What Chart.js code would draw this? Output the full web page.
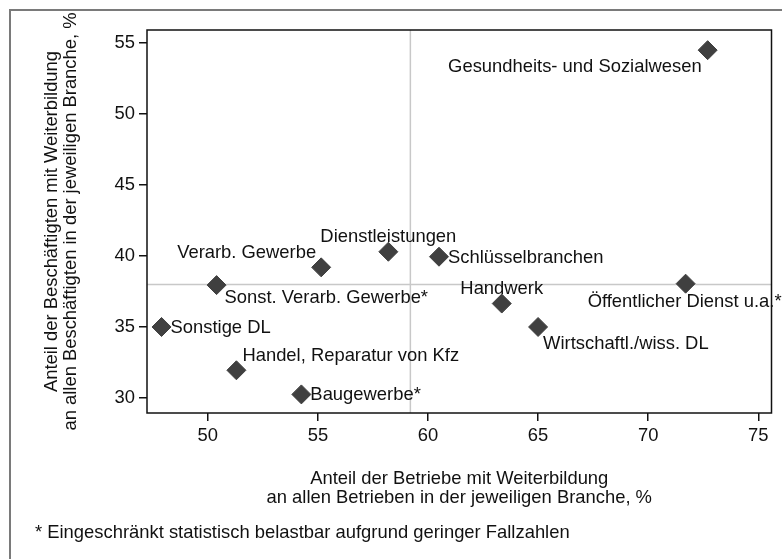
<!DOCTYPE html>
<html>
<head>
<meta charset="utf-8">
<title>Weiterbildung nach Branchen</title>
<script src="https://cdn.jsdelivr.net/npm/chart.js@4/dist/chart.umd.min.js"></script>
<style>
  body { margin: 0; background: #fff; }
  canvas { display: block; }
</style>
</head>
<body>
<canvas id="myChart" width="782" height="559"></canvas>
<script>
// data
const branchen = [
    'Gesundheits- und Sozialwesen',
    'Dienstleistungen',
    'Verarb. Gewerbe',
    'Schlüsselbranchen',
    'Sonst. Verarb. Gewerbe*',
    'Sonstige DL',
    'Handel, Reparatur von Kfz',
    'Baugewerbe*',
    'Handwerk',
    'Wirtschaftl./wiss. DL',
    'Öffentlicher Dienst u.a.*'
];
const anteilBetriebe = [72.7, 58.2, 55.15, 60.5, 50.4, 47.9, 51.3, 54.25, 63.35, 65.0, 71.7];
const anteilBeschaeftigte = [54.5, 40.3, 39.2, 39.95, 37.95, 35.0, 31.95, 30.25, 36.65, 35.0, 38.05];

// reference lines (averages)
const mittelBetriebe = 59.2;
const mittelBeschaeftigte = 38.0;

const xTicks = [50, 55, 60, 65, 70, 75];
const yTicks = [30, 35, 40, 45, 50, 55];

// label position per point, clock style (3 = right, 12 = above ...)
const labelPos = [7, 12, 11, 3, 4, 3, 1, 3, 12, 5, 6];

const footnote = '* Eingeschränkt statistisch belastbar aufgrund geringer Fallzahlen';

const xRange = [47.24, 75.6];
const yRange = [28.94, 55.92];

const posOffsets = {
    1:  { dx: 6,  dy: -14, align: 'left' },
    3:  { dx: 9,  dy: 1,   align: 'left' },
    4:  { dx: 8,  dy: 13,  align: 'left' },
    5:  { dx: 5,  dy: 17,  align: 'left' },
    6:  { dx: -1, dy: 18,  align: 'center' },
    7:  { dx: -6, dy: 17,  align: 'right' },
    11: { dx: -5, dy: -14, align: 'right' },
    12: { dx: 0,  dy: -15, align: 'center' }
};

const FONT = '"Liberation Sans", Arial, Helvetica, sans-serif';
const FSIZE = 18.4;
Chart.defaults.font.family = FONT;
Chart.defaults.font.size = FSIZE;
Chart.defaults.color = '#111';

// frame, plot border, point labels, footnote
const decorations = {
    id: 'decorations',
    beforeDraw(chart) {
        const ctx = chart.ctx;
        ctx.save();
        ctx.strokeStyle = '#7a7a7a';
        ctx.lineWidth = 2;
        ctx.strokeRect(10, 10, chart.width + 20, chart.height + 20);
        ctx.restore();
    },
    afterDatasetsDraw(chart) {
        const ctx = chart.ctx;
        const area = chart.chartArea;
        ctx.save();
        ctx.strokeStyle = '#111';
        ctx.lineWidth = 1.5;
        ctx.strokeRect(area.left, area.top, area.right - area.left, area.bottom - area.top);

        const meta = chart.getDatasetMeta(2);
        ctx.font = FSIZE + 'px ' + FONT;
        ctx.fillStyle = '#111';
        ctx.textBaseline = 'middle';
        meta.data.forEach((pt, i) => {
            const o = posOffsets[labelPos[i]];
            ctx.textAlign = o.align;
            ctx.fillText(branchen[i], pt.x + o.dx, pt.y + o.dy);
        });

        ctx.textAlign = 'left';
        ctx.fillText(footnote, 35, 533);
        ctx.restore();
    }
};

const ctx = document.getElementById('myChart').getContext('2d');

new Chart(ctx, {
    type: 'scatter',
    data: {
        datasets: [
            {
                label: 'Mittel Betriebe',
                data: [{ x: mittelBetriebe, y: yRange[0] }, { x: mittelBetriebe, y: yRange[1] }],
                showLine: true,
                borderColor: '#c8c8c8',
                borderWidth: 1.5,
                pointRadius: 0,
                order: 2
            },
            {
                label: 'Mittel Beschäftigte',
                data: [{ x: xRange[0], y: mittelBeschaeftigte }, { x: xRange[1], y: mittelBeschaeftigte }],
                showLine: true,
                borderColor: '#c8c8c8',
                borderWidth: 1.5,
                pointRadius: 0,
                order: 2
            },
            {
                label: 'Branchen',
                data: anteilBetriebe.map((v, i) => ({ x: v, y: anteilBeschaeftigte[i] })),
                pointStyle: 'rectRot',
                pointRadius: 9.5,
                backgroundColor: '#404040',
                borderColor: '#404040',
                borderWidth: 1,
                order: 0
            }
        ]
    },
    options: {
        responsive: false,
        devicePixelRatio: 1,
        animation: false,
        layout: { padding: { top: 30, right: 8, left: 0, bottom: 0 } },
        plugins: {
            legend: { display: false },
            tooltip: { enabled: false }
        },
        scales: {
            x: {
                type: 'linear',
                min: xRange[0],
                max: xRange[1],
                afterBuildTicks: scale => { scale.ticks = xTicks.map(v => ({ value: v })); },
                afterFit: scale => { scale.height = 146; },
                grid: { drawOnChartArea: false, color: '#111', tickLength: 8, lineWidth: 1.5 },
                border: { display: false },
                ticks: { padding: 4, color: '#111', maxRotation: 0 },
                title: {
                    display: true,
                    text: ['Anteil der Betriebe mit Weiterbildung', 'an allen Betrieben in der jeweiligen Branche, %'],
                    font: { size: FSIZE, lineHeight: 1.0 },
                    color: '#111',
                    padding: { top: 0, bottom: 52 }
                }
            },
            y: {
                type: 'linear',
                min: yRange[0],
                max: yRange[1],
                afterBuildTicks: scale => { scale.ticks = yTicks.map(v => ({ value: v })); },
                afterFit: scale => { scale.width = 147; },
                grid: { drawOnChartArea: false, color: '#111', tickLength: 8, lineWidth: 1.5 },
                border: { display: false },
                ticks: { padding: 4, color: '#111' },
                title: {
                    display: true,
                    text: ['Anteil der Beschäftigten mit Weiterbildung', 'an allen Beschäftigten in der jeweiligen Branche, %'],
                    font: { size: FSIZE, lineHeight: 1.0 },
                    color: '#111',
                    padding: { top: 43, bottom: 0 }
                }
            }
        }
    },
    plugins: [decorations]
});
</script>
</body>
</html>
